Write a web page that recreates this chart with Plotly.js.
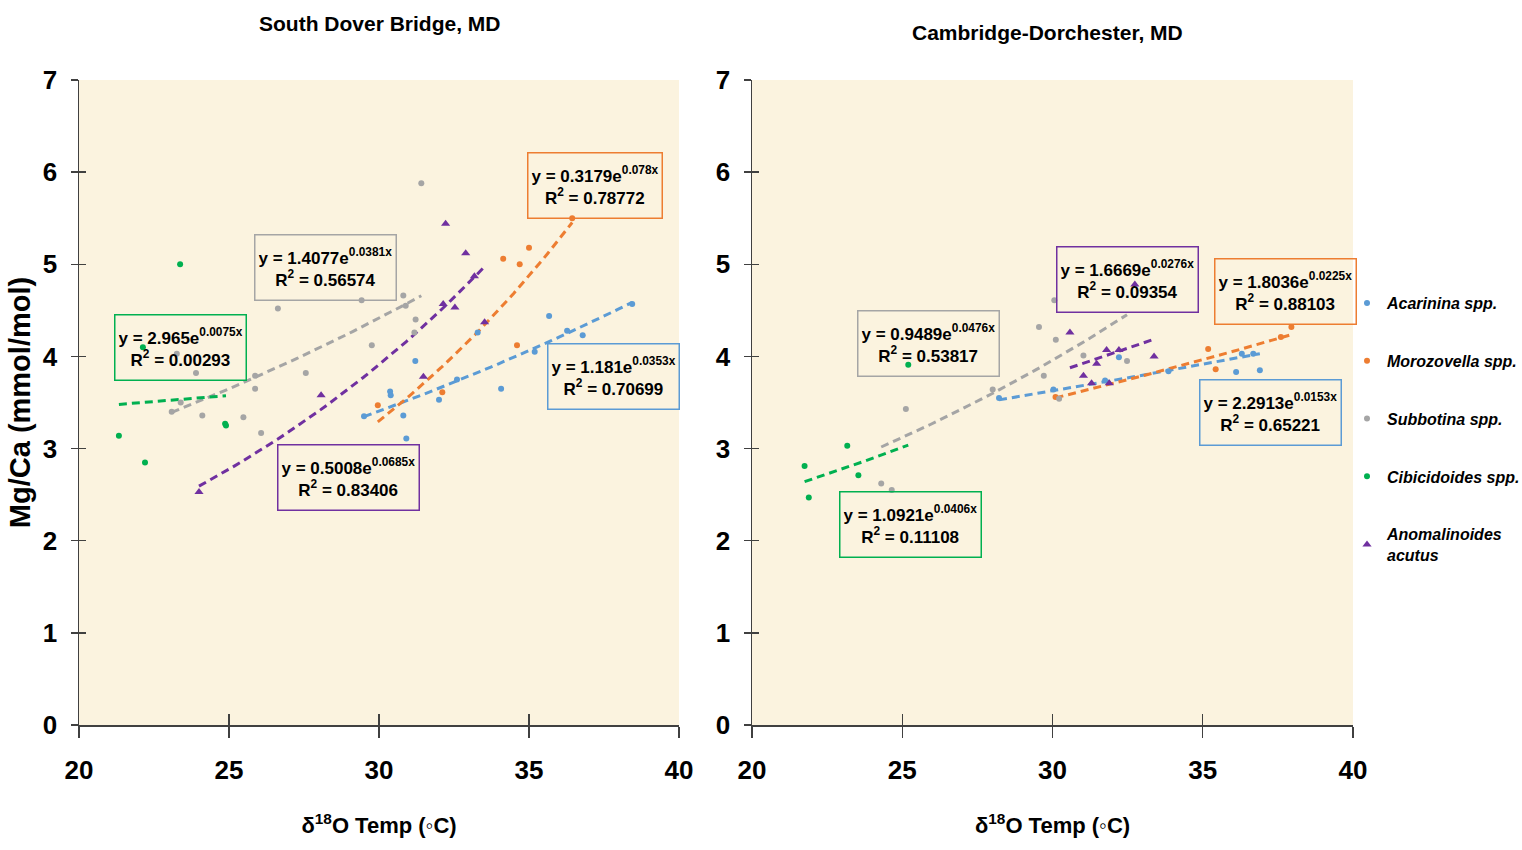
<!DOCTYPE html>
<html>
<head>
<meta charset="utf-8">
<script src="https://cdn.plot.ly/plotly-3.0.1.min.js"></script>
<style>
html,body{margin:0;padding:0;background:#fff;}
#chart{width:1522px;height:850px;}
</style>
</head>
<body>
<div id="chart"></div>
<script>
// ---------- DATA ----------
const seriesNames = ["Acarinina spp.", "Morozovella spp.", "Subbotina spp.", "Cibicidoides spp.", "Anomalinoides<br>acutus"];
const panelTitles = ["South Dover Bridge, MD", "Cambridge-Dorchester, MD"];
const xTickVals = [20, 25, 30, 35, 40];
const yTickVals = [0, 1, 2, 3, 4, 5, 6, 7];

// South Dover Bridge, MD
const sdbAcarininaX = [29.5, 30.37, 30.39, 30.81, 30.91, 31.21, 32.0, 32.6, 33.29, 34.07, 35.19, 35.67, 36.27, 36.79, 38.44];
const sdbAcarininaY = [3.35, 3.62, 3.58, 3.36, 3.11, 3.95, 3.53, 3.75, 4.26, 3.65, 4.05, 4.44, 4.28, 4.23, 4.57];
const sdbMorozovellaX = [29.96, 32.11, 34.6, 34.14, 34.69, 35.0, 36.44];
const sdbMorozovellaY = [3.47, 3.61, 4.12, 5.06, 5.00, 5.18, 5.50];
const sdbSubbotinaX = [23.09, 23.26, 23.39, 23.9, 24.11, 25.48, 25.87, 25.87, 26.07, 26.63, 27.56, 29.42, 29.76, 30.81, 30.89, 31.18, 31.22, 31.41];
const sdbSubbotinaY = [3.40, 4.03, 3.50, 3.82, 3.36, 3.34, 3.79, 3.65, 3.17, 4.52, 3.82, 4.61, 4.12, 4.66, 4.55, 4.26, 4.40, 5.88];
const sdbCibicidoidesX = [21.33, 22.13, 22.2, 23.37, 24.87, 24.9];
const sdbCibicidoidesY = [3.14, 4.10, 2.85, 5.00, 3.27, 3.25];
const sdbAnomalinoidesX = [24.0, 28.07, 31.48, 32.14, 32.22, 32.53, 32.89, 33.18, 33.52];
const sdbAnomalinoidesY = [2.53, 3.58, 3.78, 4.57, 5.44, 4.53, 5.12, 4.87, 4.37];

// Cambridge-Dorchester, MD
const cdAcarininaX = [28.22, 30.03, 31.75, 32.21, 33.86, 36.11, 36.3, 36.68, 36.9];
const cdAcarininaY = [3.55, 3.64, 3.74, 3.99, 3.84, 3.83, 4.03, 4.03, 3.85];
const cdMorozovellaX = [30.1, 35.18, 35.43, 37.6, 37.95];
const cdMorozovellaY = [3.56, 4.08, 3.86, 4.21, 4.32];
const cdSubbotinaX = [24.3, 24.65, 25.12, 28.01, 29.55, 29.71, 30.11, 30.06, 30.22, 31.03, 32.48];
const cdSubbotinaY = [2.62, 2.55, 3.43, 3.64, 4.32, 3.79, 4.18, 4.61, 3.54, 4.01, 3.95];
const cdCibicidoidesX = [21.75, 21.89, 23.17, 23.54, 25.2];
const cdCibicidoidesY = [2.81, 2.47, 3.03, 2.71, 3.91];
const cdAnomalinoidesX = [30.58, 31.03, 31.30, 31.47, 31.8, 31.89, 32.21, 32.74, 33.38];
const cdAnomalinoidesY = [4.26, 3.79, 3.71, 3.92, 4.07, 3.71, 4.07, 4.78, 4.00];

// Exponential trendline coefficients (y = a·e^(b·x)) and R² as printed
const sdbFitA = [1.181, 0.3179, 1.4077, 2.965, 0.5008];
const sdbFitB = [0.0353, 0.078, 0.0381, 0.0075, 0.0685];
const sdbFitLabelA = ["1.181", "0.3179", "1.4077", "2.965", "0.5008"];
const sdbFitLabelB = ["0.0353", "0.078", "0.0381", "0.0075", "0.0685"];
const sdbR2 = ["0.70699", "0.78772", "0.56574", "0.00293", "0.83406"];
const cdFitA = [2.2913, 1.8036, 0.9489, 1.0921, 1.6669];
const cdFitB = [0.0153, 0.0225, 0.0476, 0.0406, 0.0276];
const cdFitLabelA = ["2.2913", "1.8036", "0.9489", "1.0921", "1.6669"];
const cdFitLabelB = ["0.0153", "0.0225", "0.0476", "0.0406", "0.0276"];
const cdR2 = ["0.65221", "0.88103", "0.53817", "0.11108", "0.09354"];

// ---------- STYLE ----------
const colors = ["#5B9BD5", "#ED7D31", "#A5A5A5", "#00B050", "#7030A0"];
const symbols = ["circle", "circle", "circle", "circle", "triangle-up"];
const FONT = "'Liberation Sans', Arial, sans-serif";
// label box centres (data coords) per panel
const sdbBoxX = [37.83, 37.2, 28.23, 23.37, 28.97];
const sdbBoxY = [3.78, 5.86, 4.96, 4.10, 2.69];
const cdBoxX = [37.24, 37.77, 25.89, 25.29, 32.48];
const cdBoxY = [3.39, 4.70, 4.14, 2.18, 4.83];

const panels = [
  {xs:[sdbAcarininaX, sdbMorozovellaX, sdbSubbotinaX, sdbCibicidoidesX, sdbAnomalinoidesX],
   ys:[sdbAcarininaY, sdbMorozovellaY, sdbSubbotinaY, sdbCibicidoidesY, sdbAnomalinoidesY],
   a:sdbFitA, b:sdbFitB, la:sdbFitLabelA, lb:sdbFitLabelB, r2:sdbR2, bx:sdbBoxX, by:sdbBoxY, xa:'x', ya:'y'},
  {xs:[cdAcarininaX, cdMorozovellaX, cdSubbotinaX, cdCibicidoidesX, cdAnomalinoidesX],
   ys:[cdAcarininaY, cdMorozovellaY, cdSubbotinaY, cdCibicidoidesY, cdAnomalinoidesY],
   a:cdFitA, b:cdFitB, la:cdFitLabelA, lb:cdFitLabelB, r2:cdR2, bx:cdBoxX, by:cdBoxY, xa:'x2', ya:'y2'}
];

const traces = [];
const annotations = [];
panels.forEach((p, pi) => {
  for (let i = 0; i < 5; i++) {
    const xmin = Math.min(...p.xs[i]), xmax = Math.max(...p.xs[i]);
    const tx = [], ty = [];
    for (let k = 0; k <= 40; k++) { const x = xmin + (xmax - xmin) * k / 40; tx.push(x); ty.push(p.a[i] * Math.exp(p.b[i] * x)); }
    traces.push({type:'scatter', mode:'lines', x:tx, y:ty, xaxis:p.xa, yaxis:p.ya,
      line:{color:colors[i], width:3, dash:'8px,5px'}, showlegend:false, hoverinfo:'skip'});
  }
  for (let i = 0; i < 5; i++) {
    traces.push({type:'scatter', mode:'markers', name:seriesNames[i], x:p.xs[i], y:p.ys[i],
      xaxis:p.xa, yaxis:p.ya, legendgroup:'g'+i, showlegend: pi === 0,
      marker:{color:colors[i], symbol:symbols[i], size: symbols[i] === 'circle' ? 6 : 8}});
    annotations.push({xref:p.xa, yref:p.ya, x:p.bx[i], y:p.by[i], xanchor:'center', yanchor:'middle', showarrow:false,
      text:'y = ' + p.la[i] + 'e<sup>' + p.lb[i] + 'x</sup><br>R<sup>2</sup> = ' + p.r2[i],
      font:{family:FONT, size:17, color:'#000', weight:'bold'}, align:'center', height:58,
      bordercolor:colors[i], borderwidth:1.5, borderpad:3, bgcolor:'rgba(0,0,0,0)'});
  }
});

annotations.push({xref:'paper', yref:'paper', x:380/1522, y:1-24/850, xanchor:'center', yanchor:'middle', showarrow:false,
  text:panelTitles[0], font:{family:FONT, size:21, color:'#000', weight:'bold'}});
annotations.push({xref:'paper', yref:'paper', x:1047/1522, y:1-33/850, xanchor:'center', yanchor:'middle', showarrow:false,
  text:panelTitles[1], font:{family:FONT, size:21, color:'#000', weight:'bold'}});

const tickFont = {family:FONT, size:26, color:'#000', weight:'bold'};
const axLine = '#404040';
function xAxis(domain, anchor) {
  return {domain:domain, anchor:anchor, range:[20,40], tickvals:xTickVals, ticks:'outside', ticklen:11, tickwidth:1.3,
    tickcolor:axLine, showline:true, linecolor:axLine, linewidth:1.5, showgrid:false, zeroline:false,
    tickfont:tickFont, ticklabelstandoff:10, fixedrange:true, automargin:false,
    title:{text:'δ<sup>18</sup>O Temp (◦C)', font:{family:FONT, size:22, color:'#000', weight:'bold'}, standoff:34}};
}
function yAxis(domain, anchor, withTitle) {
  const ax = {domain:domain, anchor:anchor, range:[0,7], tickvals:yTickVals, ticks:'outside', ticklen:7, tickwidth:1.3,
    tickcolor:axLine, showline:true, linecolor:axLine, linewidth:1.5, showgrid:false, zeroline:false,
    tickfont:tickFont, ticklabelstandoff:8, fixedrange:true, automargin:false};
  if (withTitle) ax.title = {text:'Mg/Ca (mmol/mol)', font:{family:FONT, size:29, color:'#000', weight:'bold'}, standoff:3};
  return ax;
}
function overlayX(over, anchor) {
  return {overlaying:over, anchor:anchor, side:'bottom', range:[20,40], tickvals:xTickVals, ticks:'inside', ticklen:11,
    tickwidth:1.3, tickcolor:axLine, showticklabels:false, showline:false, showgrid:false, zeroline:false, fixedrange:true};
}
function overlayY(over, anchor) {
  return {overlaying:over, anchor:anchor, side:'left', range:[0,7], tickvals:yTickVals, ticks:'inside', ticklen:7,
    tickwidth:1.3, tickcolor:axLine, showticklabels:false, showline:false, showgrid:false, zeroline:false, fixedrange:true};
}

const yDom = [125/850, 770/850];
const layout = {
  width:1522, height:850, paper_bgcolor:'#ffffff', plot_bgcolor:'#FBF3DF',
  margin:{l:0, r:0, t:0, b:0, autoexpand:false},
  xaxis: xAxis([79/1522, 679/1522], 'y'),
  yaxis: yAxis(yDom, 'x', true),
  xaxis2: xAxis([752/1522, 1353/1522], 'y2'),
  yaxis2: yAxis(yDom, 'x2', false),
  xaxis3: overlayX('x', 'y'),
  yaxis3: overlayY('y', 'x'),
  xaxis4: overlayX('x2', 'y2'),
  yaxis4: overlayY('y2', 'x2'),
  showlegend:true,
  legend:{x:1357/1522, y:1-286/850, xanchor:'left', yanchor:'top', bgcolor:'rgba(0,0,0,0)', indentation:-10,
    font:{family:FONT, size:16, color:'#000', weight:'bold', style:'italic'}, tracegroupgap:34, itemwidth:30},
  annotations:annotations
};
traces.push({type:'scatter', mode:'markers', x:[], y:[], xaxis:'x3', yaxis:'y3', showlegend:false, hoverinfo:'skip'});
traces.push({type:'scatter', mode:'markers', x:[], y:[], xaxis:'x4', yaxis:'y4', showlegend:false, hoverinfo:'skip'});

Plotly.newPlot('chart', traces, layout, {displayModeBar:false, staticPlot:true});
</script>
</body>
</html>
